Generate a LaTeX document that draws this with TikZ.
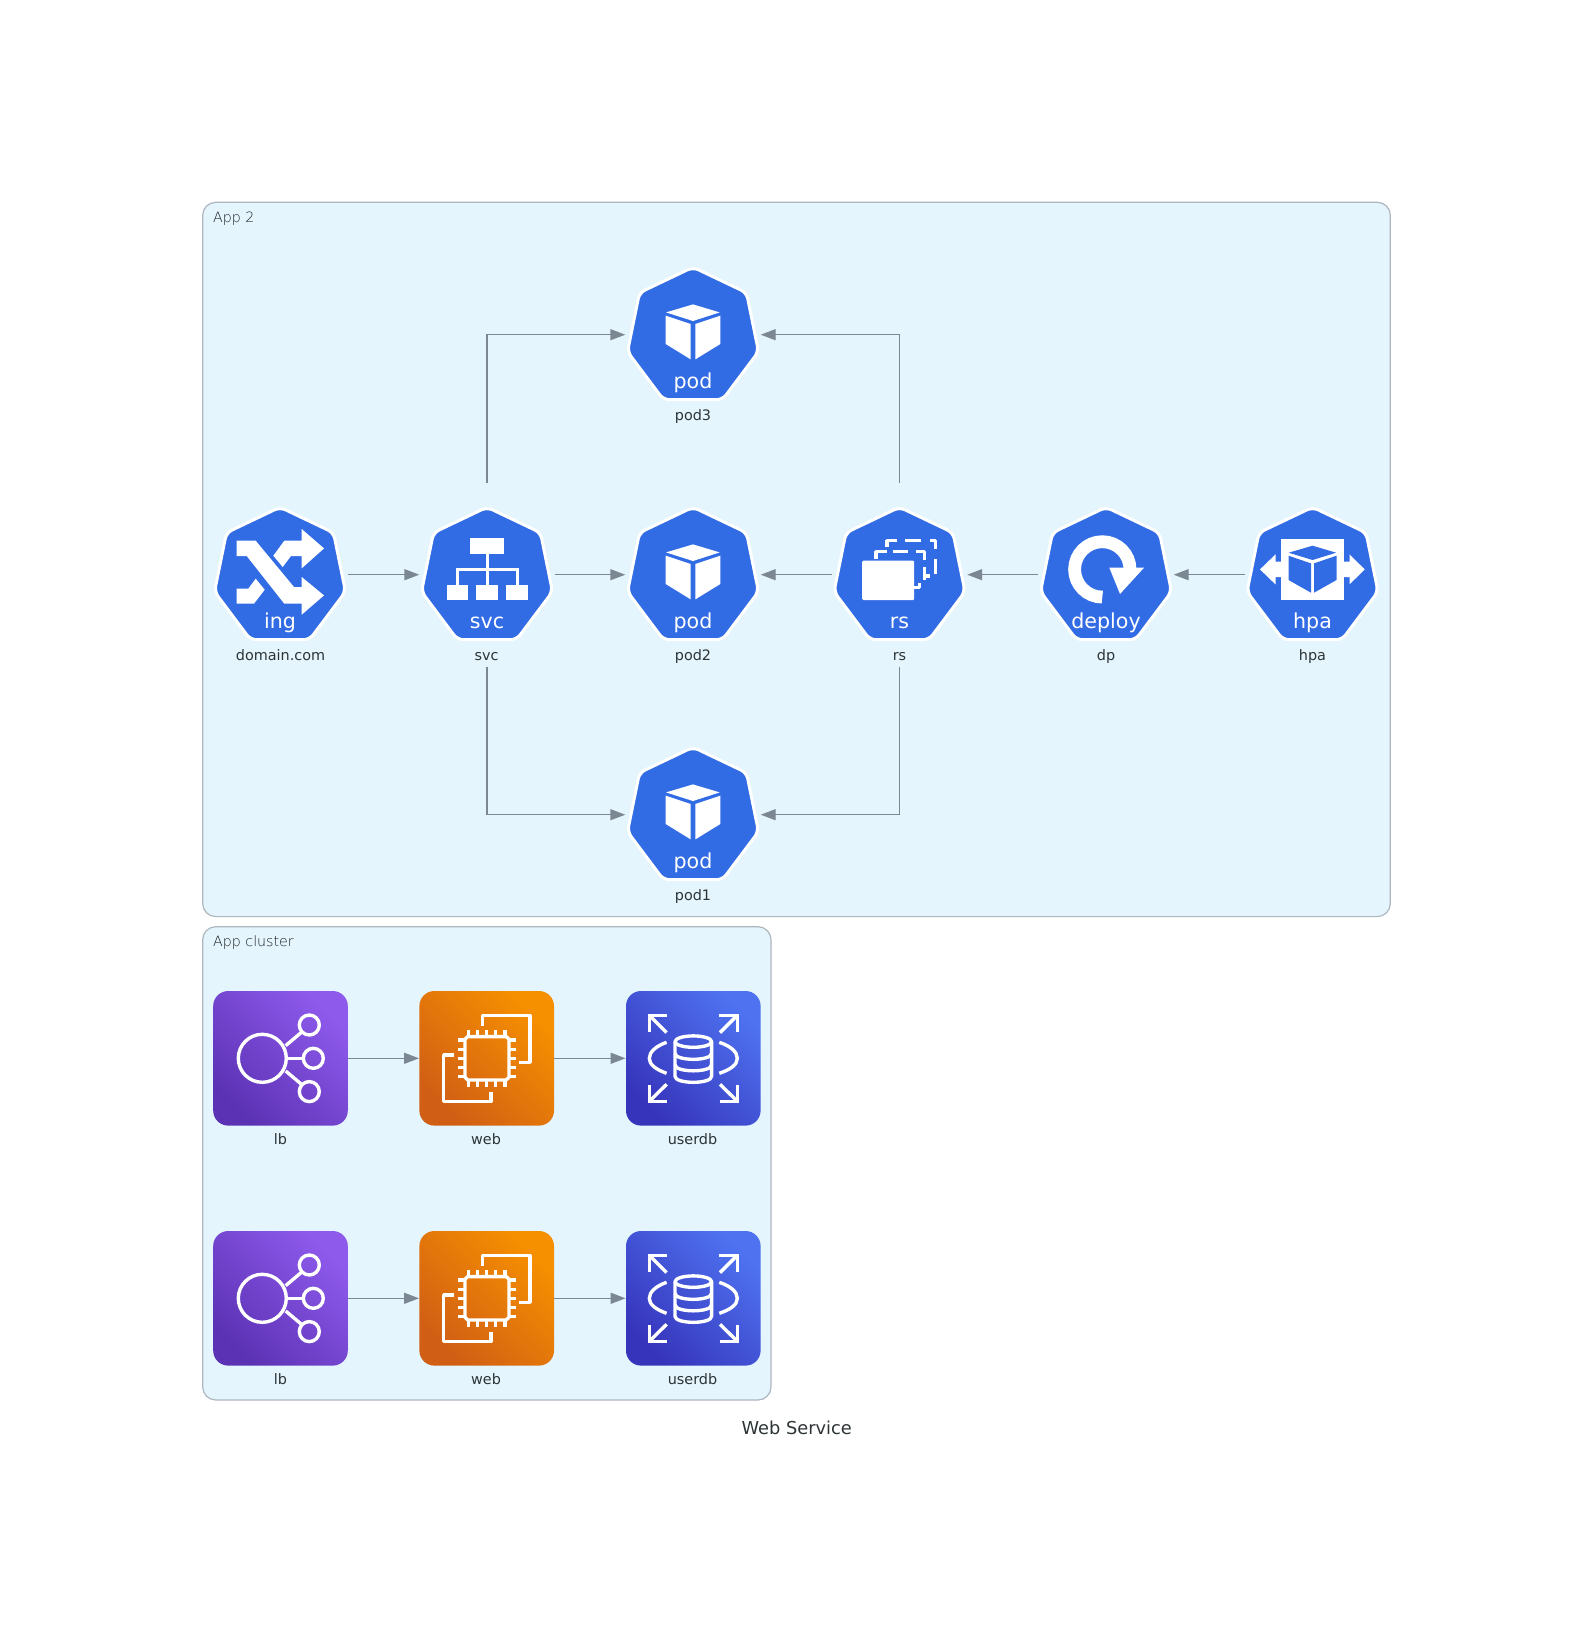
\documentclass[tikz,border=0pt]{standalone}
\usepackage{fontspec}
\setmainfont{DejaVu Sans}
\newfontfamily\thinfont{DejaVu Sans ExtraLight}
\usetikzlibrary{arrows.meta}
\definecolor{kubeblue}{HTML}{326CE5}
\definecolor{edgegray}{HTML}{7B8894}
\definecolor{textgray}{HTML}{2D3436}
\definecolor{clusterfill}{HTML}{E4F5FD}
\definecolor{clusterline}{HTML}{AEB6BE}
\definecolor{lbdark}{HTML}{5C32B4}
\definecolor{lblight}{HTML}{8E5AEC}
\definecolor{webdark}{HTML}{D05E15}
\definecolor{weblight}{HTML}{F79000}
\definecolor{dbdark}{HTML}{3634BB}
\definecolor{dblight}{HTML}{4E72F0}
\tikzset{
  slot/.style={minimum width=67.3pt, minimum height=91.7pt, inner sep=0pt},
  tile/.style={minimum size=67.3pt, inner sep=0pt, rounded corners=7.5pt},
  lbtile/.style={tile, bottom color=lbdark, top color=lblight, shading angle=-45},
  webtile/.style={tile, bottom color=webdark, top color=weblight, shading angle=-45},
  dbtile/.style={tile, bottom color=dbdark, top color=dblight, shading angle=-45},
  caption/.style={anchor=base, inner sep=0pt, text=textgray, font=\fontsize{7.2}{8}\selectfont},
  kindtext/.style={anchor=base, inner sep=0pt, text=white, font=\fontsize{10.3}{12}\selectfont},
  clusterbox/.style={draw=clusterline, fill=clusterfill, line width=.6pt, rounded corners=6.5pt},
  clustertext/.style={anchor=base west, inner sep=0pt, text=textgray!60!black, font=\thinfont\fontsize{7.1}{8}\selectfont},
  edge/.style={draw=edgegray, line width=.7pt, -{Triangle[length=7.5pt,width=5.5pt]}},
  solidicon/.style={fill=white, draw=none},
  lineicon/.style={draw=white, line width=1.7pt, fill=none, line join=round},
  kube/.pic={
    \draw[fill=kubeblue, draw=white, line width=1.5pt, rounded corners=3pt, line join=round]
      (0,-67.5) -- (53.5,-42) -- (65.5,17) -- (29.5,65) -- (-29.5,65) -- (-65.5,17) -- (-53.5,-42) -- cycle;
    \node[kindtext] (kind) at (0,54) {#1};
  },
  ingicon/.pic={
    \fill[solidicon] (-43.3,-34) -- (-24.3,-34) -- (14,12.3) -- (21.7,12.3) -- (21.7,2.3) -- (44,20.7) -- (21.7,40) -- (21.7,29) -- (4.3,29) -- (-33.3,-18.7) -- (-43.3,-18.7) -- cycle;
    \fill[solidicon] (-6.7,-19) -- (4.3,-34) -- (21.7,-34) -- (21.7,-45.7) -- (44,-26.3) -- (21.7,-6.3) -- (21.7,-18.7) -- (11,-18.7) -- (2.7,-7.7) -- cycle;
    \fill[solidicon] (-43.3,14) -- (-31.7,14) -- (-24.3,4) -- (-15.3,15) -- (-26,29) -- (-43.3,29) -- cycle;
  },
  svcicon/.pic={
    \fill[solidicon] (-17.3,-36.7) rectangle (17.3,-21);
    \fill[solidicon] (-40.3,10) rectangle (-18.7,25.7);
    \fill[solidicon] (-10.7,10) rectangle (11,25.7);
    \fill[solidicon] (18.7,10) rectangle (40.7,25.7);
    \draw[draw=white, line width=1.5pt] (0,-21) -- (0,10);
    \draw[draw=white, line width=1.5pt] (-30,10) -- (-30,-5.7) -- (30,-5.7) -- (30,10);
  },
  podicon/.pic={
    \fill[solidicon] (0,-30.3) -- (26.7,-22.3) -- (0,-13.7) -- (-27,-22.3) -- cycle;
    \fill[solidicon] (-27.3,-19) -- (-2.3,-10.7) -- (-2.3,24.7) -- (-27.3,9.3) -- cycle;
    \fill[solidicon] (27.3,-19) -- (2.3,-10.7) -- (2.3,24.7) -- (27.3,9.3) -- cycle;
  },
  rsicon/.pic={
    \fill[solidicon, rounded corners=.6pt] (-37.3,-14) rectangle (14.7,25.3);
    \draw[lineicon] (-12.7,-27.3) -- (-12.7,-34) -- (-2.7,-34);
    \draw[lineicon] (5.7,-34) -- (21.3,-34);
    \draw[lineicon] (30,-34) -- (36,-34) -- (36,-25.3);
    \draw[lineicon] (36,-15.3) -- (36,-.7);
    \draw[lineicon] (-23.7,-15.7) -- (-23.7,-23) -- (-12.7,-23);
    \draw[lineicon] (-7,-23) -- (8,-23);
    \draw[lineicon] (16.7,-23) -- (25,-23) -- (25,-14.7);
    \draw[lineicon] (25,-8) -- (25,5.3);
    \draw[lineicon] (25,1.3) -- (30,1.3);
    \draw[lineicon] (14.7,12.7) -- (20,12.7) -- (20,8);
  },
  deployicon/.pic={
    \draw[draw=white, line width=6.4pt] (-3.7,22.4) arc[start angle=90, end angle=360, radius=27.7];
    \fill[solidicon] (3.3,-7) -- (38,-7) -- (14,19.3) -- cycle;
  },
  hpaicon/.pic={
    \fill[solidicon] (-31.5,-36) rectangle (31.2,25.3);
    \fill[kubeblue] (0,-29) -- (23.6,-22) -- (0,-14.7) -- (-23.8,-22) -- cycle;
    \fill[kubeblue] (-24,-19) -- (-1.5,-11.3) -- (-1.5,18) -- (-24,5.3) -- cycle;
    \fill[kubeblue] (24,-19) -- (1.5,-11.3) -- (1.5,18) -- (24,5.3) -- cycle;
    \fill[solidicon] (-52.5,-5.3) -- (-37,-20.3) -- (-37,-13) -- (-31.5,-13) -- (-31.5,2.3) -- (-37,2.3) -- (-37,9.7) -- cycle;
    \fill[solidicon] (52.2,-5.3) -- (37,-20.3) -- (37,-13) -- (31.2,-13) -- (31.2,2.3) -- (37,2.3) -- (37,9.7) -- cycle;
  },
  lbicon/.pic={
    \draw[lineicon] (-18.2,0) circle[radius=24];
    \draw[lineicon] (28.8,-33.3) circle[radius=10];
    \draw[lineicon] (32.8,0) circle[radius=10];
    \draw[lineicon] (28.8,33.3) circle[radius=10];
    \draw[lineicon] (5.2,-12.7) -- (21.8,-26.7);
    \draw[lineicon] (6.2,0) -- (22.8,0);
    \draw[lineicon] (5.2,12.7) -- (21.8,26.7);
  },
  webicon/.pic={
    \draw[lineicon] (-19,-21.7) -- (19.6,-21.7) -- (22.3,-19) -- (22.3,19) -- (19.6,21.7) -- (-19,21.7) -- (-21.7,19) -- (-21.7,-19) -- cycle;
    \foreach \pin in {-18.3,-9,0,9,18.3} {
      \draw[lineicon, line width=1.6pt] (\pin,-21.7) -- (\pin,-28.5);
      \draw[lineicon, line width=1.6pt] (\pin,21.7) -- (\pin,28.5);
      \draw[lineicon, line width=1.6pt] (-21.7,\pin) -- (-28.5,\pin);
      \draw[lineicon, line width=1.6pt] (22.3,\pin) -- (29,\pin);
    }
    \draw[lineicon] (-4,-32.7) -- (-4,-42.7) -- (43.3,-42.7) -- (43.3,4) -- (32.7,4);
    \draw[lineicon] (-32.3,-3.3) -- (-43,-3.3) -- (-43,43.3) -- (4.3,43.3) -- (4.3,33.3);
  },
  dbicon/.pic={
    \draw[lineicon] (0,-16.7) ellipse [x radius=18.3, y radius=5.7];
    \draw[lineicon] (-18.3,-16.7) -- (-18.3,18) .. controls (-18.3,26) and (18.3,26) .. (18.3,18) -- (18.3,-16.7);
    \draw[lineicon] (-18.3,-5) .. controls (-18.3,3) and (18.3,3) .. (18.3,-5);
    \draw[lineicon] (-18.3,6.5) .. controls (-18.3,14.5) and (18.3,14.5) .. (18.3,6.5);
    \draw[lineicon, line join=miter] (-26.7,-43) -- (-44,-43) -- (-44,-26.7);
    \draw[lineicon] (-43,-42) -- (-26.7,-25.7);
    \draw[lineicon, line join=miter] (26,-43) -- (44,-43) -- (44,-26);
    \draw[lineicon] (43,-42) -- (26.7,-25.7);
    \draw[lineicon, line join=miter] (-26.7,43) -- (-44,43) -- (-44,26.7);
    \draw[lineicon] (-43,42) -- (-26.7,26);
    \draw[lineicon, line join=miter] (26.7,43) -- (44,43) -- (44,26.7);
    \draw[lineicon] (43,42) -- (26.7,26);
    \draw[lineicon] (-26.7,-16) .. controls (-38,-12) and (-44,-6) .. (-44,0) .. controls (-44,6) and (-38,11) .. (-26.7,15);
    \draw[lineicon] (26,-16) .. controls (38,-12) and (44,-6) .. (44,0) .. controls (44,6) and (38,11) .. (26,15);
  }
}
\begin{document}
\begin{tikzpicture}[x=.5pt, y=-.5pt]
  \useasboundingbox (0,0) rectangle (1593,1637);

  \draw[clusterbox] (202.7,202.3) rectangle (1390.3,916.6);
  \draw[clusterbox] (202.7,926.7) rectangle (771,1400);
  \node[clustertext] (apptwo) at (212.8,222.3) {App 2};
  \node[clustertext] (appcluster) at (212.8,946.7) {App cluster};

  \node[slot] (ing) at (280,574.7) {};
  \node[slot] (svc) at (487,574.7) {};
  \node[slot] (pod2) at (693,574.7) {};
  \node[slot] (rs) at (899.5,574.7) {};
  \node[slot] (dp) at (1106,574.7) {};
  \node[slot] (hpa) at (1312.5,574.7) {};
  \node[slot] (pod3) at (693,334.7) {};
  \node[slot] (pod1) at (693,814.7) {};

  \pic (ing) at (ing) {kube=ing};
  \pic at (ing) {ingicon};
  \pic (svc) at (svc) {kube=svc};
  \pic at (svc) {svcicon};
  \pic (pod2) at (pod2) {kube=pod};
  \pic at (pod2) {podicon};
  \pic (pod3) at (pod3) {kube=pod};
  \pic at (pod3) {podicon};
  \pic (pod1) at (pod1) {kube=pod};
  \pic at (pod1) {podicon};
  \pic (rs) at (rs) {kube=rs};
  \pic at (rs) {rsicon};
  \pic (dp) at (dp) {kube=deploy};
  \pic at (dp) {deployicon};
  \pic (hpa) at (hpa) {kube=hpa};
  \pic at (hpa) {hpaicon};

  \node[caption] (ingname) at (280.5,660.2) {domain.com};
  \node[caption] (svcname) at (486.5,660.2) {svc};
  \node[caption] (pod2name) at (693,660.2) {pod2};
  \node[caption] (rsname) at (899.5,660.2) {rs};
  \node[caption] (dpname) at (1106,660.2) {dp};
  \node[caption] (hpaname) at (1312.5,660.2) {hpa};
  \node[caption] (pod3name) at (693,420.2) {pod3};
  \node[caption] (pod1name) at (693,900.2) {pod1};

  \draw[edge] (ing) -- (svc);
  \draw[edge] (svc) -- (pod2);
  \draw[edge] (rs) -- (pod2);
  \draw[edge] (dp) -- (rs);
  \draw[edge] (hpa) -- (dp);
  \draw[edge] (svc.north) |- (pod3);
  \draw[edge] (svc.south) |- (pod1);
  \draw[edge] (rs.north) |- (pod3);
  \draw[edge] (rs.south) |- (pod1);

  \node[lbtile] (lba) at (280.5,1058.3) {};
  \node[webtile] (weba) at (486.7,1058.3) {};
  \node[dbtile] (dba) at (693.3,1058.3) {};
  \node[lbtile] (lbb) at (280.5,1298.3) {};
  \node[webtile] (webb) at (486.7,1298.3) {};
  \node[dbtile] (dbb) at (693.3,1298.3) {};

  \pic at (lba) {lbicon};
  \pic at (weba) {webicon};
  \pic at (dba) {dbicon};
  \pic at (lbb) {lbicon};
  \pic at (webb) {webicon};
  \pic at (dbb) {dbicon};

  \node[caption] (lbaname) at (280.5,1144) {lb};
  \node[caption] (webaname) at (486,1144) {web};
  \node[caption] (dbaname) at (692.5,1144) {userdb};
  \node[caption] (lbbname) at (280.5,1384) {lb};
  \node[caption] (webbname) at (486,1384) {web};
  \node[caption] (dbbname) at (692.5,1384) {userdb};

  \draw[edge] (lba) -- (weba);
  \draw[edge] (weba) -- (dba);
  \draw[edge] (lbb) -- (webb);
  \draw[edge] (webb) -- (dbb);

  \node[anchor=base, inner sep=0pt, text=textgray, font=\fontsize{8.9}{11}\selectfont] (title) at (796.7,1434.8) {Web Service};
\end{tikzpicture}
\end{document}
